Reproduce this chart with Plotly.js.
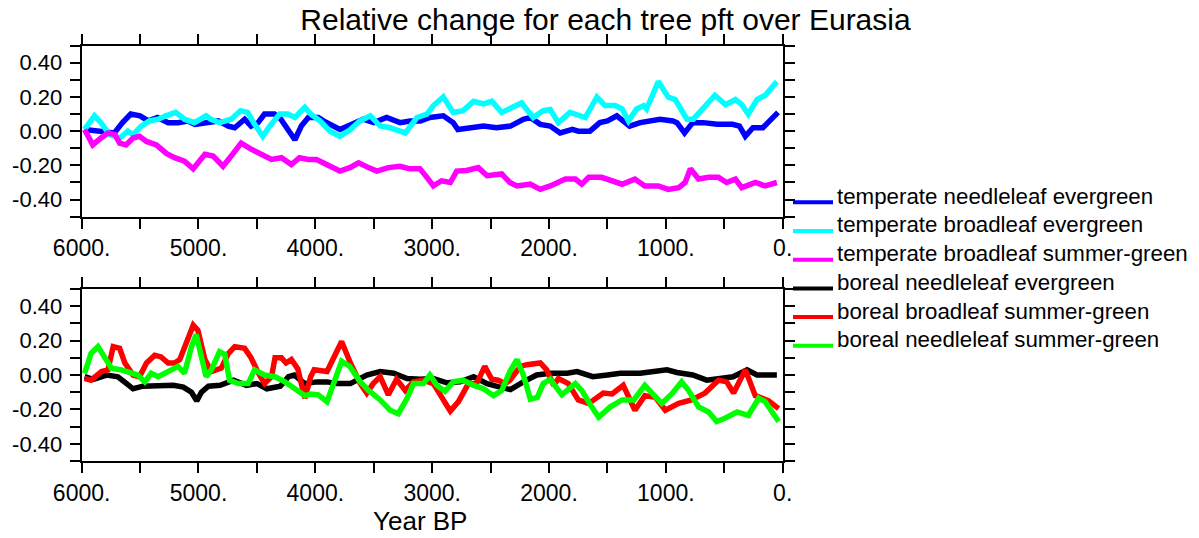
<!DOCTYPE html>
<html>
<head>
<meta charset="utf-8">
<script src="https://cdn.plot.ly/plotly-3.0.1.min.js"></script>
<style>html,body{margin:0;padding:0;background:#fff;}#chart{width:1199px;height:538px;}</style>
</head>
<body>
<div id="chart"></div>
<script>
// ---- data (year BP, relative change) ----
const seriesNames = [
  "temperate needleleaf evergreen",
  "temperate broadleaf evergreen",
  "temperate broadleaf summer-green",
  "boreal needleleaf evergreen",
  "boreal broadleaf summer-green",
  "boreal needleleaf summer-green"
];
const seriesColors = ["#0000ff", "#00ffff", "#ff00ff", "#000000", "#ff0000", "#00ff00"];

const tneYears = [5975,5860,5720,5650,5580,5500,5430,5350,5260,5175,5090,5030,4920,4830,4745,4690,4605,4550,4490,4435,4350,4295,4235,4175,4120,4060,3975,3930,3790,3700,3590,3500,3390,3275,3190,3100,3020,2905,2820,2780,2675,2560,2450,2330,2220,2160,2075,1990,1905,1800,1750,1650,1565,1500,1420,1310,1220,1100,1050,940,905,840,770,680,560,430,370,320,255,170,110,40];
const tneVals = [0.01,0.00,-0.01,0.05,0.10,0.09,0.06,0.08,0.05,0.05,0.06,0.04,0.05,0.06,0.03,0.02,0.07,0.03,0.05,0.10,0.10,0.07,0.01,-0.05,0.03,0.08,0.08,0.06,0.01,0.04,0.07,0.05,0.08,0.05,0.06,0.06,0.08,0.09,0.05,0.01,0.02,0.03,0.02,0.03,0.07,0.08,0.04,0.03,-0.01,0.01,0.00,0.00,0.05,0.06,0.09,0.03,0.05,0.06,0.07,0.06,0.05,-0.01,0.05,0.05,0.04,0.04,0.03,-0.03,0.02,0.02,0.06,0.11];

const tbeYears = [5975,5890,5835,5760,5675,5605,5560,5490,5420,5345,5280,5195,5120,5035,4935,4895,4820,4720,4640,4580,4520,4450,4390,4305,4235,4175,4090,4040,3960,3875,3790,3700,3620,3530,3445,3360,3230,3130,3045,2990,2905,2820,2735,2645,2560,2490,2405,2335,2235,2135,2050,1990,1920,1820,1750,1690,1590,1520,1435,1375,1320,1250,1190,1165,1065,980,920,820,765,690,580,490,405,350,295,220,150,50];
const tbeVals = [0.01,0.09,0.05,-0.02,-0.04,0.00,-0.02,0.03,0.06,0.07,0.09,0.11,0.07,0.05,0.09,0.07,0.05,0.07,0.12,0.11,0.04,-0.03,0.03,0.10,0.10,0.08,0.14,0.10,0.06,0.00,-0.03,0.01,0.06,0.09,0.03,0.02,-0.01,0.08,0.10,0.15,0.20,0.11,0.12,0.175,0.16,0.175,0.11,0.135,0.165,0.08,0.12,0.127,0.05,0.11,0.09,0.08,0.20,0.15,0.15,0.13,0.06,0.13,0.15,0.13,0.29,0.20,0.185,0.07,0.07,0.13,0.21,0.155,0.185,0.155,0.10,0.185,0.21,0.29];

const tbsYears = [5975,5905,5835,5775,5715,5675,5620,5560,5505,5445,5360,5275,5205,5120,5045,4945,4875,4790,4720,4635,4550,4460,4375,4290,4205,4135,4060,3990,3875,3790,3705,3630,3545,3475,3375,3275,3190,3105,3045,2990,2920,2845,2790,2705,2605,2530,2405,2335,2275,2160,2075,1990,1860,1775,1720,1660,1550,1460,1375,1265,1180,1065,980,890,835,790,720,635,550,480,405,350,235,150,50];
const tbsVals = [0.01,-0.08,-0.04,-0.01,-0.02,-0.07,-0.08,-0.04,-0.03,-0.06,-0.08,-0.13,-0.155,-0.175,-0.22,-0.135,-0.145,-0.205,-0.145,-0.07,-0.105,-0.135,-0.165,-0.155,-0.195,-0.155,-0.165,-0.165,-0.205,-0.233,-0.213,-0.185,-0.213,-0.233,-0.213,-0.205,-0.22,-0.22,-0.27,-0.32,-0.29,-0.30,-0.233,-0.23,-0.213,-0.26,-0.25,-0.30,-0.32,-0.31,-0.34,-0.32,-0.28,-0.28,-0.31,-0.27,-0.27,-0.29,-0.31,-0.28,-0.32,-0.32,-0.34,-0.33,-0.30,-0.22,-0.28,-0.27,-0.27,-0.30,-0.28,-0.33,-0.30,-0.32,-0.30];

const bneYears = [5975,5900,5785,5690,5615,5560,5475,5330,5215,5130,5060,5015,4975,4915,4815,4700,4590,4500,4415,4300,4230,4180,4090,3990,3900,3815,3700,3560,3445,3330,3215,3105,2990,2875,2760,2645,2530,2420,2330,2220,2105,1990,1845,1760,1625,1500,1390,1220,1050,990,905,770,650,540,425,305,220,135,50];
const bneVals = [-0.01,-0.025,0.0,-0.01,-0.05,-0.08,-0.065,-0.065,-0.06,-0.07,-0.10,-0.15,-0.10,-0.065,-0.06,-0.03,-0.06,-0.05,-0.08,-0.065,-0.01,0.0,-0.05,-0.04,-0.04,-0.05,-0.05,0.0,0.02,0.01,-0.02,-0.025,-0.02,-0.045,-0.04,-0.01,-0.05,-0.07,-0.085,-0.04,0.0,0.01,0.01,0.02,-0.01,0.0,0.01,0.01,0.02,0.03,0.015,0.0,-0.03,-0.02,-0.01,0.03,0.0,0.0,0.0];

const bbsYears = [5975,5920,5830,5775,5730,5675,5630,5560,5505,5445,5375,5320,5260,5205,5160,5105,5045,5005,4945,4890,4805,4745,4690,4605,4550,4490,4435,4375,4345,4290,4250,4205,4150,4090,4040,4010,3900,3850,3775,3700,3615,3560,3505,3445,3375,3305,3230,3160,3075,2990,2920,2845,2775,2690,2620,2550,2490,2435,2375,2335,2245,2190,2075,2020,1960,1920,1835,1750,1660,1535,1460,1365,1265,1180,1090,1005,890,780,665,550,480,420,320,235,120,35];
const bbsVals = [-0.02,-0.03,0.02,0.03,0.165,0.155,0.07,0.0,-0.01,0.07,0.115,0.105,0.07,0.07,0.09,0.185,0.29,0.26,0.09,0.02,0.04,0.125,0.165,0.155,0.10,0.015,-0.05,-0.01,0.10,0.10,0.07,0.09,0.035,-0.135,-0.01,0.03,0.02,0.09,0.195,0.07,-0.05,-0.105,-0.05,-0.01,-0.115,-0.025,-0.09,-0.04,-0.03,-0.05,-0.125,-0.21,-0.155,-0.05,-0.05,0.05,-0.025,-0.03,-0.05,-0.03,0.05,0.06,0.07,0.03,-0.06,-0.02,-0.05,-0.145,-0.165,-0.105,-0.11,-0.06,-0.205,-0.12,-0.13,-0.205,-0.165,-0.145,-0.105,-0.03,-0.04,-0.105,0.03,-0.12,-0.15,-0.195];

const bnsYears = [5975,5920,5860,5805,5745,5660,5575,5520,5460,5405,5345,5260,5175,5120,5060,5020,4975,4935,4890,4820,4775,4735,4660,4575,4520,4435,4345,4260,4175,4090,4035,3975,3900,3845,3775,3705,3615,3545,3445,3360,3290,3215,3160,3075,3020,2960,2890,2820,2735,2645,2560,2475,2405,2335,2275,2220,2160,2100,2050,1990,1890,1775,1720,1635,1575,1475,1375,1275,1180,1105,1035,950,865,805,720,635,565,490,390,295,205,150,35];
const bnsVals = [0.01,0.125,0.165,0.10,0.04,0.03,0.01,0.0,-0.04,0.01,-0.01,0.02,0.05,0.01,0.165,0.235,0.10,-0.01,0.03,0.135,0.12,-0.03,-0.05,-0.05,0.03,0.0,-0.01,-0.04,-0.08,-0.12,-0.11,-0.115,-0.155,-0.05,0.08,0.05,-0.04,-0.09,-0.145,-0.205,-0.225,-0.135,-0.05,-0.05,0.0,-0.06,-0.095,-0.04,-0.03,-0.06,-0.08,-0.12,-0.09,0.02,0.09,0.0,-0.14,-0.13,-0.05,-0.025,-0.115,-0.05,-0.09,-0.185,-0.245,-0.185,-0.145,-0.145,-0.06,-0.115,-0.165,-0.11,-0.04,-0.09,-0.185,-0.215,-0.27,-0.25,-0.215,-0.235,-0.135,-0.155,-0.27];

// ---- tick labels ----
const xTickVals = [6000, 5000, 4000, 3000, 2000, 1000, 0];
const xTickText = ["6000.", "5000.", "4000.", "3000.", "2000.", "1000.", "0."];
const yTickVals = [0.4, 0.2, 0.0, -0.2, -0.4];
const yTickText = ["0.40", "0.20", "0.00", "-0.20", "-0.40"];

const allYears = [tneYears, tbeYears, tbsYears, bneYears, bbsYears, bnsYears];
const allVals = [tneVals, tbeVals, tbsVals, bneVals, bbsVals, bnsVals];

const traces = allYears.map((yrs, i) => ({
  x: yrs,
  y: allVals[i],
  type: "scatter",
  mode: "lines",
  name: seriesNames[i],
  line: {color: seriesColors[i], width: 5.5},
  xaxis: i < 3 ? "x" : "x2",
  yaxis: i < 3 ? "y" : "y2",
  hoverinfo: "skip",
  showlegend: false
}));

function xAxis(anchor) {
  return {
    domain: [0.0681, 0.6528], range: [6000, 0], anchor: anchor,
    tickmode: "array", tickvals: xTickVals, ticktext: xTickText,
    ticks: "outside", ticklen: 10, tickwidth: 2, tickcolor: "#000",
    showline: true, linewidth: 2, linecolor: "#000", mirror: "allticks",
    minor: {tickmode: "linear", tick0: 0, dtick: 500, ticks: "outside", ticklen: 10, tickwidth: 2, tickcolor: "#000", showgrid: false},
    showgrid: false, zeroline: false, fixedrange: true,
    tickfont: {size: 23, color: "#000"}
  };
}
function yAxis(anchor, domain) {
  return {
    domain: domain, range: [-0.5, 0.5], anchor: anchor,
    tickmode: "array", tickvals: yTickVals, ticktext: yTickText,
    ticks: "outside", ticklen: 10, tickwidth: 2, tickcolor: "#000",
    showline: true, linewidth: 2, linecolor: "#000", mirror: "allticks",
    minor: {tickmode: "linear", tick0: 0, dtick: 0.1, ticks: "outside", ticklen: 10, tickwidth: 2, tickcolor: "#000", showgrid: false},
    showgrid: false, zeroline: false, fixedrange: true,
    ticklabelstandoff: 3,
    tickfont: {size: 22, color: "#000"}
  };
}

// ---- legend (keys and labels placed to the right of the panels) ----
const W = 1199, H = 538;
const legKeyX0 = 793, legKeyX1 = 833, legTextX = 835, legTop = 202.3, legStep = 28.7;
const legendShapes = seriesNames.map((n, i) => ({
  type: "line", xref: "paper", yref: "paper",
  x0: legKeyX0 / W, x1: legKeyX1 / W,
  y0: 1 - (legTop + i * legStep) / H, y1: 1 - (legTop + i * legStep) / H,
  line: {color: seriesColors[i], width: 4}
}));
const legendLabels = seriesNames.map((n, i) => ({
  text: n, xref: "paper", yref: "paper",
  x: legTextX / W, y: 1 - (legTop + i * legStep - 6) / H,
  xanchor: "left", yanchor: "middle", showarrow: false,
  font: {size: 22.3, color: "#000"}
}));

const layout = {
  width: W, height: H,
  margin: {l: 0, r: 0, t: 0, b: 0},
  paper_bgcolor: "#fff", plot_bgcolor: "#fff",
  font: {family: "Liberation Sans, Arial, sans-serif", color: "#000"},
  title: {text: "Relative change for each tree pft over Eurasia", font: {size: 30, color: "#000"},
          x: 0.505, xanchor: "center", y: 0.963, yanchor: "middle"},
  xaxis: xAxis("y"),
  yaxis: yAxis("x", [0.5972, 0.9151]),
  xaxis2: xAxis("y2"),
  yaxis2: yAxis("x2", [0.1431, 0.4628]),
  showlegend: false,
  shapes: legendShapes,
  annotations: [{text: "Year BP", xref: "paper", yref: "paper", x: 0.3503, y: 0.0316,
                 xanchor: "center", yanchor: "middle", showarrow: false, font: {size: 26, color: "#000"}}]
                 .concat(legendLabels)
};

Plotly.newPlot("chart", traces, layout, {displayModeBar: false, staticPlot: true});
</script>
</body>
</html>
